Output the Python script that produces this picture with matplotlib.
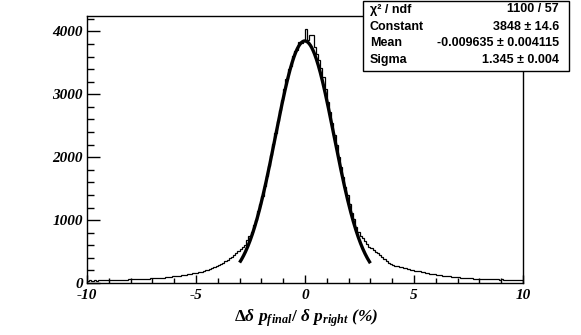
import numpy as np
import matplotlib
matplotlib.use('Agg')
import matplotlib.pyplot as plt
from matplotlib.ticker import MultipleLocator, FixedLocator
from matplotlib.patches import Rectangle

# ---- data ----
x_min, x_max, n_bins = -10.0, 10.0, 200
counts_left_tail = [36, 40, 38, 42, 39, 44, 41, 45, 43, 47,
                    46, 49, 47, 51, 50, 53, 52, 55, 54, 57,
                    58, 56, 61, 60, 64, 62, 67, 66, 70, 72,
                    74, 77, 76, 81, 84, 86, 91, 95, 99, 104,
                    108, 112, 118, 121, 126, 133, 139, 146, 152, 160,
                    166, 174, 182, 191, 200, 211, 226, 238, 254, 270,
                    288, 302, 322, 345, 368, 394, 420, 447, 480, 512]
counts_left_core = [540, 575, 612, 680, 745, 808, 920, 1005, 1140, 1262,
                    1380, 1545, 1702, 1868, 2030, 2215, 2390, 2580, 2745, 2905,
                    3080, 3240, 3410, 3455, 3612, 3690, 3712, 3830, 3820, 3870]
counts_right_core = [4035, 3860, 3950, 3940, 3760, 3640, 3540, 3420, 3270, 3085,
                     2870, 2720, 2545, 2350, 2190, 2005, 1850, 1690, 1520, 1395,
                     1250, 1105, 1010, 895, 815, 740, 712, 660, 615, 580]
counts_right_tail = [558, 530, 500, 470, 440, 410, 380, 352, 325, 300,
                     288, 276, 268, 255, 248, 240, 231, 222, 214, 205,
                     198, 190, 183, 175, 168, 162, 155, 150, 143, 137,
                     131, 126, 121, 117, 112, 108, 104, 100, 96, 93,
                     90, 87, 84, 80, 78, 75, 73, 71, 68, 67,
                     65, 63, 62, 60, 61, 58, 59, 57, 56, 55,
                     57, 54, 53, 51, 52, 50, 49, 51, 48, 47]
counts = counts_left_tail + counts_left_core + counts_right_core + counts_right_tail

fit_constant = 3848.0
fit_mean = -0.009635
fit_sigma = 1.345
fit_lo, fit_hi = -3.0, 3.0

stats_labels = ["\u03c7\u00b2 / ndf", "Constant", "Mean", "Sigma"]
stats_values = ["1100 / 57", "3848 \u00b1 14.6", "-0.009635 \u00b1 0.004115", "1.345 \u00b1 0.004"]

x_ticks = [-10, -5, 0, 5, 10]
y_ticks = [0, 1000, 2000, 3000, 4000]
x_title = r'$\Delta\delta\ p_{final}/\ \delta\ p_{right}\ $(%)'

# ---- style ----
plt.rcParams['mathtext.fontset'] = 'custom'
plt.rcParams['mathtext.rm'] = 'Liberation Serif:bold'
plt.rcParams['mathtext.it'] = 'Liberation Serif:bold:italic'
plt.rcParams['mathtext.bf'] = 'Liberation Serif:bold'

W, H = 581, 335
fig = plt.figure(figsize=(W / 100, H / 100), dpi=100)
fig.patch.set_facecolor('white')
ax = fig.add_axes([87 / W, 1 - 283 / H, 436 / W, 267 / H])

edges = np.linspace(x_min, x_max, n_bins + 1)
ax.stairs(counts, edges, color='black', lw=0.9)

xf = np.linspace(fit_lo, fit_hi, 400)
yf = fit_constant * np.exp(-0.5 * ((xf - fit_mean) / fit_sigma) ** 2)
ax.plot(xf, yf, color='black', lw=2.4, solid_capstyle='butt')

ax.set_xlim(x_min, x_max)
ax.set_ylim(0, 4245)

ax.xaxis.set_major_locator(FixedLocator(x_ticks))
ax.xaxis.set_minor_locator(MultipleLocator(1))
ax.yaxis.set_major_locator(FixedLocator(y_ticks))
ax.yaxis.set_minor_locator(MultipleLocator(200))

ax.tick_params(axis='both', which='both', direction='in', top=False, right=False, width=1.0, color='black')
ax.tick_params(axis='y', which='major', length=9.5, pad=3)
ax.tick_params(axis='y', which='minor', length=5)
ax.tick_params(axis='x', which='major', length=6, pad=4)
ax.tick_params(axis='x', which='minor', length=3.5)

tick_font = dict(family='Liberation Serif', weight='bold', style='italic', size=11)
ax.set_xticks(x_ticks)
ax.set_xticklabels([str(t) for t in x_ticks], fontdict=tick_font)
ax.set_yticks(y_ticks)
ax.set_yticklabels([str(t) for t in y_ticks], fontdict=tick_font)

for s in ax.spines.values():
    s.set_linewidth(1.0)
    s.set_color('black')

fig.text(306 / W, 1 - 318 / H, x_title, ha='center', va='center',
         fontsize=12.5, family='Liberation Serif', weight='bold', style='italic')

# ---- stats box ----
bx0, bx1, by0, by1 = 363, 569, 1, 71
box = Rectangle((bx0 / W, 1 - by1 / H), (bx1 - bx0) / W, (by1 - by0) / H,
                transform=fig.transFigure, facecolor='white', edgecolor='black',
                lw=1.0, zorder=10)
fig.add_artist(box)
row_y = [9.5, 26.5, 43, 60]
for lab, val, ry in zip(stats_labels, stats_values, row_y):
    fig.text(370 / W, 1 - ry / H, lab, ha='left', va='center', fontsize=9,
             family='Liberation Sans', weight='bold', zorder=11)
    fig.text(559 / W, 1 - ry / H, val, ha='right', va='center', fontsize=9,
             family='Liberation Sans', weight='bold', zorder=11)

fig.savefig('out.png', dpi=100, facecolor='white')
